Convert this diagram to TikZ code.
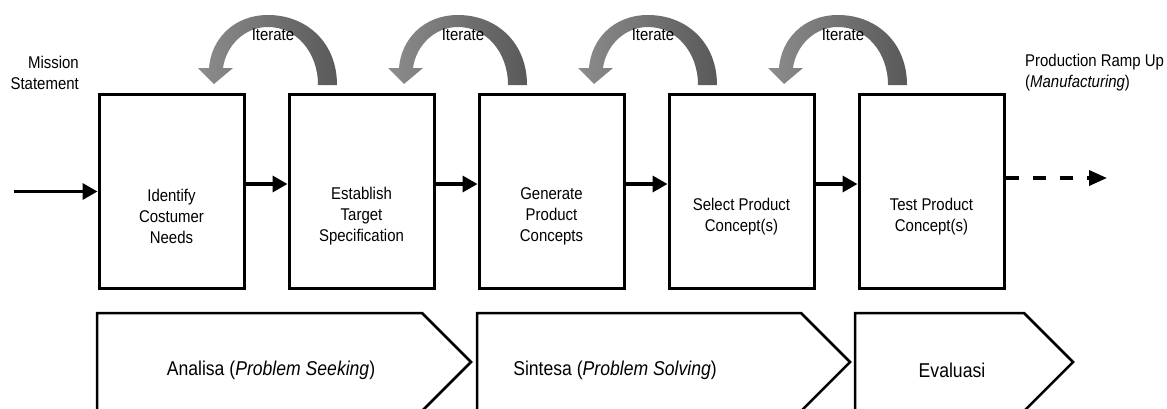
\documentclass[tikz,border=0pt]{standalone}
\usepackage{fontspec}
\setmainfont{Liberation Sans}[FakeStretch=0.88]
\usetikzlibrary{arrows.meta}
\begin{document}
\begin{tikzpicture}[x=1pt,y=-1pt,
  txt/.style={font=\fontsize{17}{21}\selectfont, inner sep=0pt, align=center},
  bigtxt/.style={font=\fontsize{20}{24}\selectfont, inner sep=0pt, align=center},
  stepbox/.style={draw, line width=3pt, minimum width=145pt, minimum height=194pt, inner sep=0pt},
  flow/.style={line width=3.5pt, -{Triangle[length=15pt,width=16pt]}},
  chev/.style={draw, line width=2.5pt, line join=miter},
  iter/.style={left color=black!45, right color=black!65, draw=none}]
\useasboundingbox (0,0) rectangle (1167,408);
\clip (0,0) rectangle (1167,408);

% boxes
\foreach \n/\x/\s/\t in {b1/171.5/25/{Identify\\Costumer\\Needs},
                      b2/361.5/25/{Establish\\Target\\Specification},
                      b3/551.5/25/{Generate\\Product\\Concepts},
                      b4/741.5/25/{Select Product\\Concept(s)},
                      b5/931.5/25/{Test Product\\Concept(s)}}{
  \node[stepbox, label={[txt, yshift=-\s pt]center:\t}] (\n) at (\x,191.5) {};
}

% iterate arrows
\foreach \i in {0,1,2,3}{
  \begin{scope}[xshift=190*\i]
    \shade[iter] (337,85) .. controls (337,42) and (306,15) .. (268,15)
      .. controls (233,15) and (211,40) .. (209,68) -- (198,68) -- (214,84) -- (233,68) -- (223,68)
      .. controls (226,46) and (244,27) .. (268,27)
      .. controls (296,27) and (318,52) .. (318,85) -- cycle;
  \end{scope}
  \node[txt] (it\i) at (273+190*\i,35) {Iterate};
}

% connectors
\coordinate (in) at (14,191.5);
\coordinate (out) at (1107,178);
\draw[flow] (in) -- (b1.west);
\draw[flow] ([yshift=7.5pt]b1.east) -- ([yshift=7.5pt]b2.west);
\draw[flow] ([yshift=7.5pt]b2.east) -- ([yshift=7.5pt]b3.west);
\draw[flow] ([yshift=7.5pt]b3.east) -- ([yshift=7.5pt]b4.west);
\draw[flow] ([yshift=7.5pt]b4.east) -- ([yshift=7.5pt]b5.west);
\draw[line width=3.5pt, dash pattern=on 13pt off 14pt, -{Triangle[length=18pt,width=15pt]}] ([yshift=13.5pt]b5.east) -- (out);

% side texts
\node[txt, align=right, anchor=east] (ms) at (79,73) {Mission\\Statement};
\node[txt, align=left, anchor=west] (pr) at (1025,73) {Production Ramp Up\\(\textit{Manufacturing})};

% chevrons
\draw[chev] (97,313) -- (422,313) -- (471,362) -- (422,411) -- (97,411) -- cycle;
\draw[chev] (477,313) -- (801,313) -- (850,362) -- (801,411) -- (477,411) -- cycle;
\draw[chev] (855,313) -- (1024,313) -- (1073,362) -- (1024,411) -- (855,411) -- cycle;
\node[bigtxt] (c1) at (271,370) {Analisa (\textit{Problem Seeking})};
\node[bigtxt] (c2) at (615,370) {Sintesa (\textit{Problem Solving})};
\node[bigtxt] (c3) at (952,370) {Evaluasi};
\end{tikzpicture}
\end{document}
